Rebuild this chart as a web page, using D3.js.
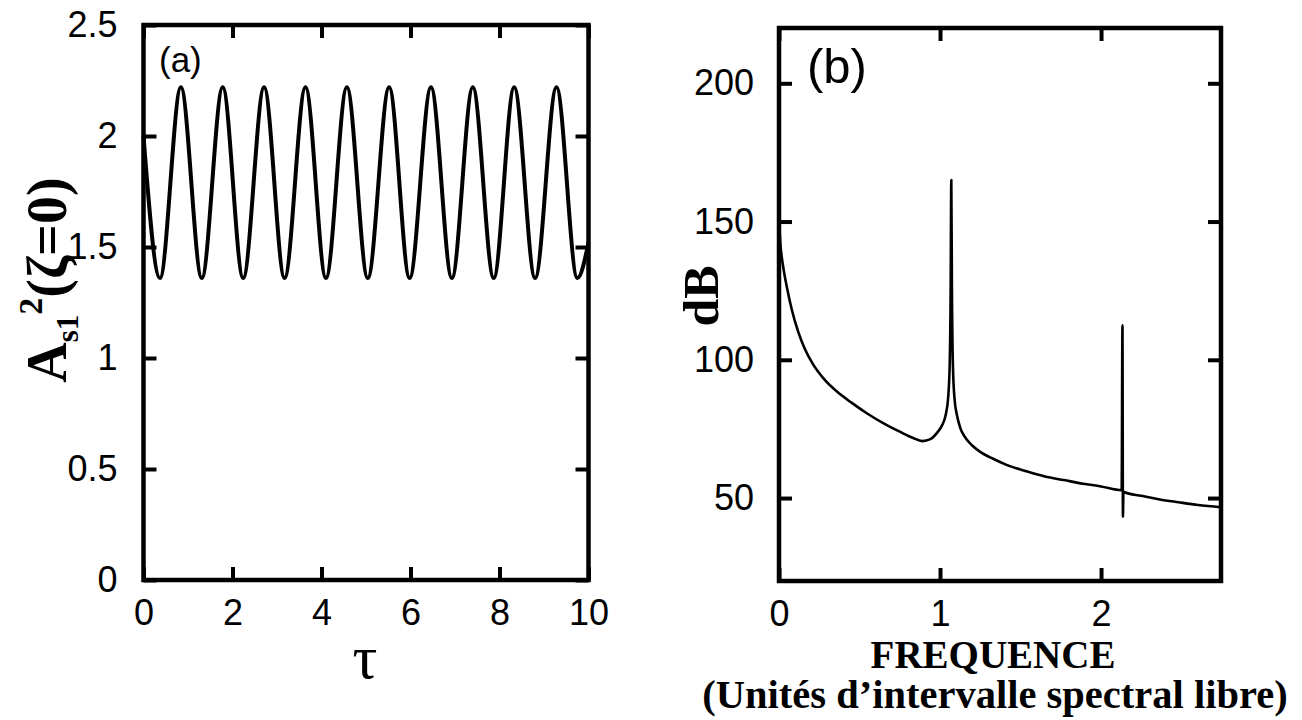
<!DOCTYPE html>
<html>
<head>
<meta charset="utf-8">
<script src="https://cdn.jsdelivr.net/npm/d3@7"></script>
<style>
  html, body { margin: 0; padding: 0; background: #fff; }
  svg { display: block; }
</style>
</head>
<body>
<svg id="fig" width="1302" height="720"></svg>
<script>
// Panel (a): intensity of the first Stokes wave at the fibre input vs time
const tauValues = [0, 0.37, 0.84, 1.31, 1.78, 2.24, 2.71, 3.17, 3.64, 4.10, 4.57, 5.04, 5.52,
                   5.98, 6.46, 6.93, 7.40, 7.87, 8.33, 8.80, 9.28, 9.75, 10];
const ampValues = [2.0, 1.36, 2.22, 1.36, 2.22, 1.36, 2.22, 1.36, 2.22, 1.36, 2.22, 1.36, 2.22,
                   1.36, 2.22, 1.36, 2.22, 1.36, 2.22, 1.36, 2.22, 1.36, 1.52];
const tauTicks = [0, 2, 4, 6, 8, 10];
const ampTicks = [0, 0.5, 1, 1.5, 2, 2.5];

// Panel (b): power spectrum (dB) vs frequency in free spectral range units
const freqValues = [0, 0.01, 0.025, 0.05, 0.08, 0.12, 0.16, 0.21, 0.28, 0.36, 0.45, 0.55,
                    0.65, 0.75, 0.83, 0.89, 0.94, 0.98, 1.01, 1.035, 1.05, 1.06, 1.066, 1.070,
                    1.074, 1.08, 1.09, 1.105, 1.125, 1.152, 1.2, 1.247, 1.33, 1.413, 1.53, 1.651,
                    1.77, 1.888, 2.0, 2.128, 2.133, 2.136, 2.139, 2.143, 2.25, 2.365, 2.48, 2.603, 2.745];
const dbValues = [150, 141, 134, 126, 118, 110, 104, 98.5, 93, 88.5, 84.5, 80.5,
                  77, 74, 71.8, 70.6, 71.3, 73.5, 76, 80, 86, 98, 125, 165,
                  125, 98, 86, 80, 75.5, 72.3, 69, 66.8, 64.2, 62, 59.8, 57.8,
                  56.5, 55.2, 54.2, 52.8, 112.5, 43.3, 52.4, 52.2, 50.8, 49.5, 48.5, 47.5, 46.7];
const freqTicks = [0, 1, 2];
const dbTicks = [50, 100, 150, 200];

const svg = d3.select("#fig");
const tickFont = "'Liberation Sans', Arial, Helvetica, sans-serif";
const serifFont = "'Liberation Serif', 'Times New Roman', serif";
const TICK = 13;

function framePanel(g, x, y, xt, yt, xFmt, yFmt, padX, padY) {
  const [x0, x1] = x.range();
  const [y0, y1] = y.range();
  const axes = [
    { gen: d3.axisBottom(x).tickValues(xt).tickSize(-TICK).tickPadding(padX).tickFormat(xFmt), tr: `translate(0,${y0})` },
    { gen: d3.axisTop(x).tickValues(xt).tickSize(-TICK).tickFormat(""), tr: `translate(0,${y1})` },
    { gen: d3.axisLeft(y).tickValues(yt).tickSize(-TICK).tickPadding(padY).tickFormat(yFmt), tr: `translate(${x0},0)` },
    { gen: d3.axisRight(y).tickValues(yt).tickSize(-TICK).tickFormat(""), tr: `translate(${x1},0)` }
  ];
  axes.forEach(a => {
    const ag = g.append("g").attr("transform", a.tr).call(a.gen);
    ag.select(".domain").remove();
    ag.selectAll(".tick line").attr("stroke", "#000").attr("stroke-width", 4);
    ag.selectAll(".tick text")
      .attr("fill", "#000")
      .style("font-family", tickFont)
      .style("font-size", "36px");
  });
  g.append("rect")
    .attr("x", x0).attr("y", y1)
    .attr("width", x1 - x0).attr("height", y0 - y1)
    .attr("fill", "none").attr("stroke", "#000").attr("stroke-width", 4.5);
}

// ---------- panel (a) ----------
const xa = d3.scaleLinear().domain([0, 10]).range([143.5, 588.5]);
const ya = d3.scaleLinear().domain([0, 2.5]).range([580, 25]);
const ga = svg.append("g");
framePanel(ga, xa, ya, tauTicks, ampTicks, d3.format("d"), d => d3.format("")(d), 19, 26);

ga.append("path")
  .datum(tauValues.map((t, i) => [t, ampValues[i]]))
  .attr("fill", "none").attr("stroke", "#000").attr("stroke-width", 4)
  .attr("stroke-linejoin", "round")
  .attr("d", d3.line().x(d => xa(d[0])).y(d => ya(d[1])).curve(d3.curveMonotoneX));

ga.append("text").attr("x", 159).attr("y", 72)
  .style("font-family", tickFont).style("font-size", "35px").text("(a)");

ga.append("text").attr("x", 365).attr("y", 678).attr("text-anchor", "middle")
  .style("font-family", serifFont).style("font-size", "62px").text("τ");

const yla = ga.append("text")
  .attr("transform", "translate(66,280) rotate(-90)")
  .attr("text-anchor", "middle")
  .style("font-family", serifFont).style("font-weight", "bold").style("font-size", "56px");
yla.append("tspan").text("A");
yla.append("tspan").attr("dy", 12).style("font-size", "31px").text("s1");
yla.append("tspan").attr("dy", -36).style("font-size", "34px").text("2");
yla.append("tspan").attr("dy", 24).text("(ζ=0)");

// ---------- panel (b) ----------
const xb = d3.scaleLinear().domain([0, 2.745]).range([779, 1221]);
const yb = d3.scaleLinear().domain([20, 220]).range([581, 28]);
const gb = svg.append("g");
framePanel(gb, xb, yb, freqTicks, dbTicks, d3.format("d"), d3.format("d"), 19, 25);

gb.append("path")
  .datum(freqValues.map((f, i) => [f, dbValues[i]]))
  .attr("fill", "none").attr("stroke", "#000").attr("stroke-width", 2.6)
  .attr("stroke-linejoin", "round")
  .attr("d", d3.line().x(d => xb(d[0])).y(d => yb(d[1])).curve(d3.curveMonotoneX));

gb.append("text").attr("x", 807).attr("y", 83)
  .style("font-family", tickFont).style("font-size", "49px").text("(b)");

gb.append("text")
  .attr("transform", "translate(718,296) rotate(-90)")
  .attr("text-anchor", "middle")
  .style("font-family", serifFont).style("font-weight", "bold").style("font-size", "50px")
  .text("dB");

gb.append("text").attr("x", 993).attr("y", 668).attr("text-anchor", "middle")
  .style("font-family", serifFont).style("font-weight", "bold").style("font-size", "39px")
  .text("FREQUENCE");
gb.append("text").attr("x", 995).attr("y", 708).attr("text-anchor", "middle")
  .style("font-family", serifFont).style("font-weight", "bold").style("font-size", "40.5px")
  .text("(Unités d’intervalle spectral libre)");
</script>
</body>
</html>
